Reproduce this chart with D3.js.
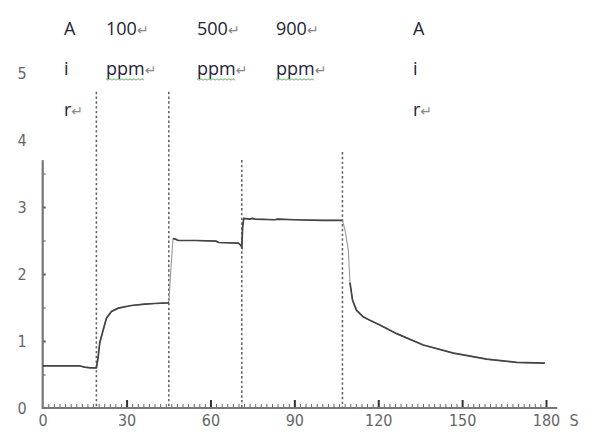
<!DOCTYPE html>
<html>
<head>
<meta charset="utf-8">
<script src="https://cdn.jsdelivr.net/npm/d3@7"></script>
<style>
  body { margin: 0; background: #fff; }
  svg { display: block; }
</style>
</head>
<body>
<div id="chart"></div>
<script>
// sensor response trace (time in s, response)
const timeS = [0, 5, 10, 13, 15, 17, 19.2, 19.8, 20.4, 21.6, 22.8, 24.6, 27, 31.7, 36.5, 40, 44.8, 45.1,
  45.8, 46.6, 47.5, 48.5, 55, 62, 63, 70, 70.8, 71.2, 71.5, 71.9, 74, 75, 76, 83, 84, 90, 100, 107.2,
  108.1, 109.3, 109.9, 110.8, 112.2, 114.6, 117, 120.6, 126.6, 136.1, 146.9, 158.8, 169.5, 179.6]
const signal = [0.63, 0.63, 0.63, 0.63, 0.61, 0.60, 0.60, 0.75, 0.97, 1.16, 1.34, 1.44, 1.49, 1.53, 1.55, 1.56, 1.57, 1.58,
  2.05, 2.53, 2.52, 2.50, 2.50, 2.49, 2.47, 2.46, 2.43, 2.40, 2.70, 2.83, 2.82, 2.83, 2.82, 2.81, 2.82, 2.81, 2.80, 2.80,
  2.66, 2.36, 1.87, 1.61, 1.46, 1.36, 1.31, 1.24, 1.11, 0.94, 0.82, 0.73, 0.68, 0.67]
// gas switching times (s)
const switchTimes = [19.2, 45.1, 71.2, 107.2]
// parts of the trace that are drawn faint
const faintSpans = [[45.1, 46.6], [107.2, 109.6]]

const xTicks = [0, 30, 60, 90, 120, 150, 180]
const yTicks = [0, 1, 2, 3, 4, 5]
const phaseLabels = [['A', 'i', 'r'], ['100', 'ppm'], ['500', 'ppm'], ['900', 'ppm'], ['A', 'i', 'r']]

const W = 602, H = 438
const svg = d3.select('#chart').append('svg').attr('width', W).attr('height', H)

const x = d3.scaleLinear().domain([0, 180]).range([42.7, 546])
const y = d3.scaleLinear().domain([0, 5]).range([408, 73])

const axisColor = '#777'
const tickFont = "'Liberation Sans Narrow', 'DejaVu Sans Condensed', sans-serif"

// x axis: minor ticks every 2 s, major every 30 s, pointing up
svg.append('g')
  .attr('transform', 'translate(0,' + y(0) + ')')
  .call(d3.axisBottom(x).tickValues(d3.range(2, 181, 2)).tickSize(-4).tickFormat(''))
  .call(g => g.select('.domain').remove())
  .selectAll('line').attr('stroke', '#666').attr('stroke-width', 1)

svg.append('g')
  .attr('transform', 'translate(0,' + y(0) + ')')
  .call(d3.axisBottom(x).tickValues(xTicks.slice(1)).tickSize(-8).tickFormat(''))
  .call(g => g.select('.domain').remove())
  .selectAll('line').attr('stroke', '#333').attr('stroke-width', 2)

svg.append('line')
  .attr('x1', x(0)).attr('x2', x(184))
  .attr('y1', y(0)).attr('y2', y(0))
  .attr('stroke', axisColor).attr('stroke-width', 2.2)

svg.append('g')
  .attr('transform', 'translate(0,' + (y(0) + 3) + ')')
  .call(d3.axisBottom(x).tickValues(xTicks).tickSize(0).tickPadding(0).tickFormat(d3.format('d')))
  .call(g => g.select('.domain').remove())
  .selectAll('text')
  .attr('font-family', tickFont)
  .attr('font-size', 16)
  .attr('fill', '#666')
  .attr('dy', '0.95em')

svg.append('text')
  .attr('x', x(180) + 28).attr('y', y(0) + 3)
  .attr('dy', '0.95em')
  .attr('text-anchor', 'middle')
  .attr('font-family', tickFont).attr('font-size', 16).attr('fill', '#666')
  .text('S')

// y axis: line only up to 3.7, labels up to 5
svg.append('g')
  .attr('transform', 'translate(' + x(0) + ',0)')
  .call(d3.axisLeft(y).tickValues(d3.range(0.5, 3.6, 0.5)).tickSize(-3).tickFormat(''))
  .call(g => g.select('.domain').remove())
  .selectAll('line').attr('stroke', '#555').attr('stroke-width', d => d % 1 === 0 ? 2 : 1)

svg.append('line')
  .attr('x1', x(0)).attr('x2', x(0))
  .attr('y1', y(0) + 1).attr('y2', y(3.7))
  .attr('stroke', axisColor).attr('stroke-width', 2.2)

svg.append('g')
  .attr('transform', 'translate(27,0)')
  .call(d3.axisLeft(y).tickValues(yTicks).tickSize(0).tickPadding(0).tickFormat(d3.format('d')))
  .call(g => g.select('.domain').remove())
  .selectAll('text')
  .attr('text-anchor', 'middle')
  .attr('x', -5)
  .attr('font-family', tickFont)
  .attr('font-size', 16)
  .attr('fill', '#666')

// dotted switching lines
const switchTop = [4.72, 4.72, 3.7, 3.82]
svg.append('g').selectAll('line')
  .data(switchTimes)
  .join('line')
  .attr('x1', d => x(d)).attr('x2', d => x(d))
  .attr('y1', (d, i) => y(switchTop[i])).attr('y2', y(0))
  .attr('stroke', '#666')
  .attr('stroke-width', 1.6)
  .attr('stroke-dasharray', '2.4,2.4')

// trace
const pts = timeS.map((t, i) => ({ t: t, v: signal[i] }))
const inFaint = d => faintSpans.some(s => d.t > s[0] && d.t < s[1])

svg.append('path')
  .datum(pts)
  .attr('fill', 'none')
  .attr('stroke', '#999')
  .attr('stroke-width', 1.1)
  .attr('d', d3.line().x(d => x(d.t)).y(d => y(d.v)))

svg.append('path')
  .datum(pts)
  .attr('fill', 'none')
  .attr('stroke', '#444')
  .attr('stroke-width', 1.7)
  .attr('d', d3.line().defined(d => !inFaint(d)).x(d => x(d.t)).y(d => y(d.v)))

// phase labels at the top (text boxes)
const labelX = [64, 106, 197, 276, 413]
const rowY = [35, 75, 116]
const labelFont = "'Open Sans', 'Noto Sans', sans-serif"
phaseLabels.forEach((lines, i) => {
  lines.forEach((s, j) => {
    const txt = svg.append('text')
      .attr('x', labelX[i]).attr('y', rowY[j])
      .attr('font-family', labelFont)
      .attr('font-size', 18)
      .attr('fill', '#232338')
    txt.append('tspan').text(s)
    if (s.length > 1 || j === lines.length - 1) {
      txt.append('tspan')
        .attr('font-family', "'DejaVu Sans', sans-serif")
        .attr('font-size', 14)
        .attr('fill', '#888')
        .text('↵')
    }
    if (s === 'ppm') {
      const w = txt.select('tspan').node().getComputedTextLength()
      const wave = d3.range(0, w + 0.1, 2).map((d, k) => [labelX[i] + d, rowY[j] + 4 + (k % 2 ? 1.2 : -0.2)])
      svg.append('path')
        .attr('d', d3.line()(wave))
        .attr('fill', 'none')
        .attr('stroke', '#5cb85c')
        .attr('stroke-width', 1)
    }
  })
})
</script>
</body>
</html>
